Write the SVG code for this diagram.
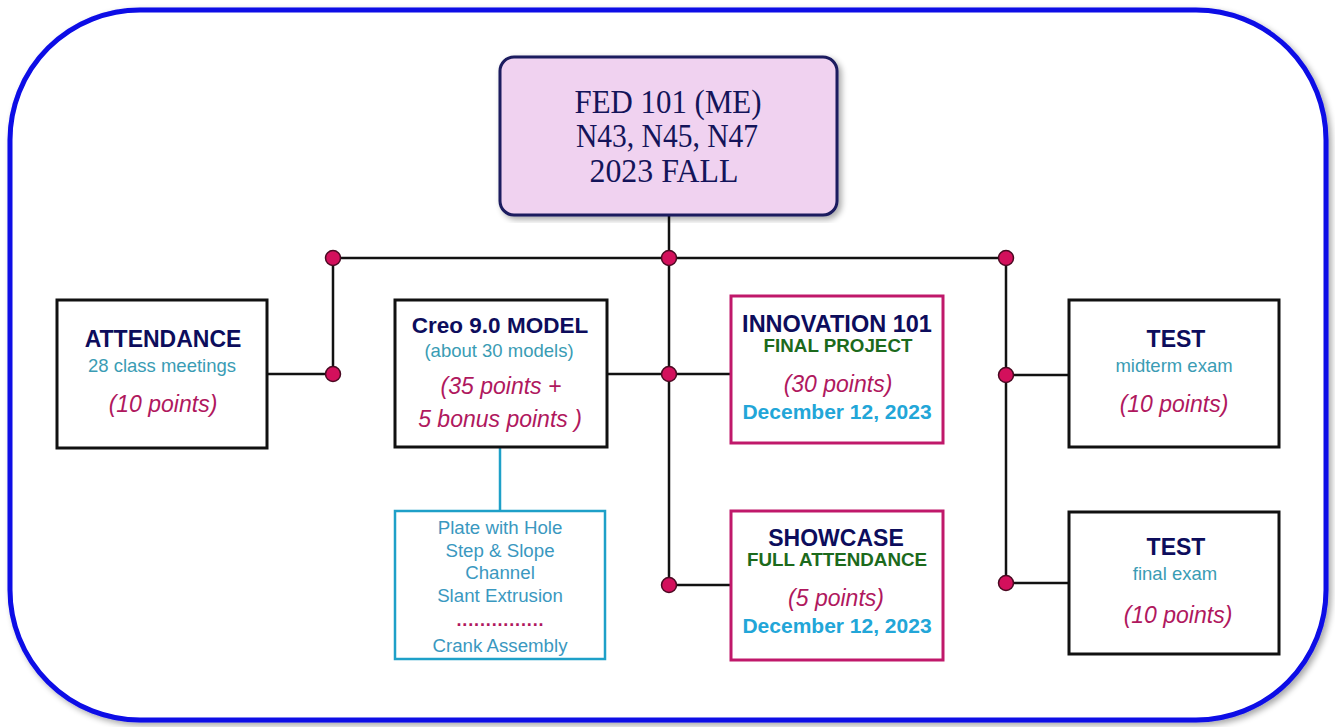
<svg xmlns="http://www.w3.org/2000/svg" width="1335" height="727" viewBox="0 0 1335 727">
<defs>
<filter id="sh" x="-5%" y="-5%" width="110%" height="110%">
<feGaussianBlur in="SourceAlpha" stdDeviation="3"/>
<feOffset dx="3" dy="3"/>
<feComponentTransfer><feFuncA type="linear" slope="0.35"/></feComponentTransfer>
<feMerge><feMergeNode/><feMergeNode in="SourceGraphic"/></feMerge>
</filter>
</defs>
<style>
text{font-family:"Liberation Sans",Arial,sans-serif;text-anchor:middle}
.ttl{font-weight:bold;fill:#0d0d5c}
.sub{fill:#3a9cb4;font-size:18.5px}
.pts{font-style:italic;fill:#b0185e;font-size:23px}
.grn{font-weight:bold;fill:#1c6a1c;font-size:18.8px}
.date{font-weight:bold;fill:#22a6d8;font-size:21px}
.box{fill:#fff;stroke:#111;stroke-width:3}
.pbox{fill:#fff;stroke:#c0186a;stroke-width:3}
.cbox{fill:#fff;stroke:#1ea0c8;stroke-width:2.5}
.ln{stroke:#111;stroke-width:2.5;fill:none}
.dot{fill:#d3105c;stroke:#4a0a22;stroke-width:1.5}
.lst{fill:#3a98c0;font-size:18.7px}
.serif{font-family:"Liberation Serif","Times New Roman",serif;fill:#14145a;font-size:34px}
</style>
<rect x="10" y="10" width="1316" height="710" rx="130" ry="130" fill="#fff" stroke="#0a0ae6" stroke-width="5" filter="url(#sh)"/>

<g id="connectors">
<path class="ln" d="M333 258 H1006 M669 215 V585 M333 258 V374 M267 374 H333 M607 374 H731 M669 585 H731 M1006 258 V583 M1006 375 H1069 M1006 583 H1069"/>
<path d="M500 447 V511" stroke="#1ea0c8" stroke-width="2.5"/>
<circle class="dot" cx="333" cy="258" r="7.5"/>
<circle class="dot" cx="669" cy="258" r="7.5"/>
<circle class="dot" cx="1006" cy="258" r="7.5"/>
<circle class="dot" cx="333" cy="374" r="7.5"/>
<circle class="dot" cx="669" cy="374" r="7.5"/>
<circle class="dot" cx="669" cy="585" r="7.5"/>
<circle class="dot" cx="1006" cy="375" r="7.5"/>
<circle class="dot" cx="1006" cy="583" r="7.5"/>
</g>

<g id="title">
<rect x="500" y="57" width="337" height="158" rx="14" fill="#f0d2f0" stroke="#1a1a5e" stroke-width="3" filter="url(#sh)"/>
<text class="serif" x="668" y="113" textLength="187" lengthAdjust="spacingAndGlyphs">FED 101 (ME)</text>
<text class="serif" x="667" y="147" textLength="182" lengthAdjust="spacingAndGlyphs">N43, N45, N47</text>
<text class="serif" x="664" y="182" textLength="149" lengthAdjust="spacingAndGlyphs">2023 FALL</text>
</g>

<g id="attendance">
<rect class="box" x="57" y="300" width="210" height="148"/>
<text class="ttl" x="163" y="347" font-size="23">ATTENDANCE</text>
<text class="sub" x="162" y="372">28 class meetings</text>
<text class="pts" x="163" y="412">(10 points)</text>
</g>

<g id="creo">
<rect class="box" x="395" y="300" width="212" height="147"/>
<text class="ttl" x="500" y="333" font-size="22.5">Creo 9.0 MODEL</text>
<text class="sub" x="499" y="357" font-size="17.4">(about 30 models)</text>
<text class="pts" x="501" y="394">(35 points +</text>
<text class="pts" x="500" y="427">5 bonus points )</text>
</g>

<g id="models">
<rect class="cbox" x="395" y="511" width="210" height="148"/>
<text class="lst" x="500" y="534">Plate with Hole</text>
<text class="lst" x="500" y="557">Step &amp; Slope</text>
<text class="lst" x="500" y="579">Channel</text>
<text class="lst" x="500" y="602">Slant Extrusion</text>
<text x="500" y="626" fill="#b0185e" font-size="18" font-weight="bold" textLength="87" lengthAdjust="spacing">...............</text>
<text class="lst" x="500" y="652">Crank Assembly</text>
</g>

<g id="innovation">
<rect class="pbox" x="731" y="296" width="212" height="147"/>
<text class="ttl" x="837" y="332" font-size="23.5">INNOVATION 101</text>
<text class="grn" x="838" y="352">FINAL PROJECT</text>
<text class="pts" x="838" y="392" font-size="22">(30 points)</text>
<text class="date" x="837" y="419">December 12, 2023</text>
</g>

<g id="showcase">
<rect class="pbox" x="731" y="511" width="212" height="149"/>
<text class="ttl" x="836" y="546" font-size="23">SHOWCASE</text>
<text class="grn" x="837" y="566">FULL ATTENDANCE</text>
<text class="pts" x="836" y="606" font-size="22">(5 points)</text>
<text class="date" x="837" y="633">December 12, 2023</text>
</g>

<g id="test-midterm">
<rect class="box" x="1069" y="300" width="210" height="147"/>
<text class="ttl" x="1176" y="347" font-size="23">TEST</text>
<text class="sub" x="1174" y="372">midterm exam</text>
<text class="pts" x="1174" y="412">(10 points)</text>
</g>

<g id="test-final">
<rect class="box" x="1069" y="512" width="210" height="142"/>
<text class="ttl" x="1176" y="555" font-size="23">TEST</text>
<text class="sub" x="1175" y="580">final exam</text>
<text class="pts" x="1178" y="623">(10 points)</text>
</g>
</svg>
